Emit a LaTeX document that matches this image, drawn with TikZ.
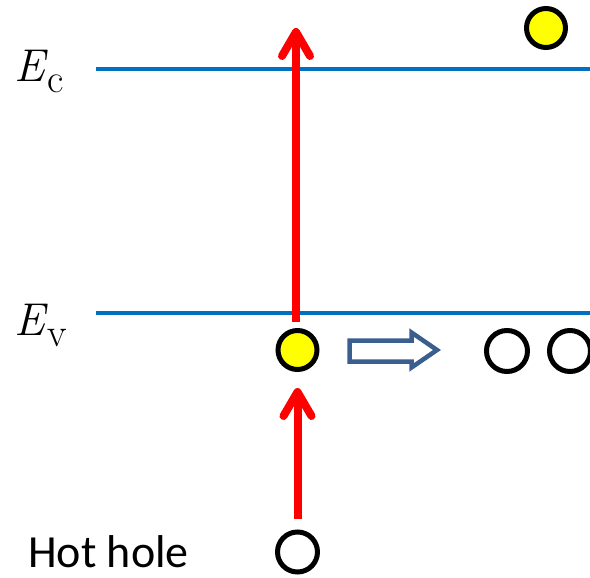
\documentclass[tikz,border=0pt]{standalone}
\usepackage{fontspec}
\newfontfamily\calfont{Carlito}
\usetikzlibrary{arrows.meta}
\definecolor{bandblue}{HTML}{0070C0}
\definecolor{arrowblue}{HTML}{3A5F8F}
\definecolor{pred}{HTML}{FF0000}
\definecolor{pyellow}{HTML}{FFFF00}
\newcommand\lvlsub[1]{\raisebox{-11pt}{\fontsize{40}{44}\selectfont #1}}
\begin{document}
\begin{tikzpicture}[x=1pt,y=-1pt,
  band/.style={draw=bandblue,line width=4.5pt},
  electron/.style={circle,draw=black,fill=pyellow,line width=5pt,minimum size=39pt,inner sep=0pt},
  hole/.style={circle,draw=black,fill=white,line width=5pt,minimum size=41pt,inner sep=0pt},
  redarrow/.style={draw=pred,line width=8pt,-{Straight Barb[length=24pt,width=28pt,round]}},
  lvl/.style={inner sep=0pt,anchor=base west,font=\fontsize{46}{50}\selectfont},
  lab/.style={inner sep=0pt,anchor=base west,font=\calfont\fontsize{46}{50}\selectfont}]
\useasboundingbox (0,0) rectangle (590,578);
% levels
\coordinate (ecL) at (96,69);
\coordinate (ecR) at (592,69);
\coordinate (evL) at (96,313);
\coordinate (evR) at (592,313);
\draw[band] (ecL) -- (ecR);
\draw[band] (evL) -- (evR);
\node[lvl] (ec) at (14,82) {\textit{E}\lvlsub{c}};
\node[lvl] (ev) at (14,335) {\textit{E}\lvlsub{v}};
% particles
\node[electron] (e2) at (546,28) {};
\node[electron] (e1) at (297.5,350) {};
\node[hole] (h1) at (507,351) {};
\node[hole] (h2) at (570,351) {};
\node[hole,minimum size=40pt] (h0) at (297.5,552) {};
\node[lab] (hot) at (28,567) {Hot hole};
% arrows
\coordinate (ctop) at (296,28);
\draw[redarrow,shorten <=6pt] ([xshift=-1.5pt]e1.north) -- (ctop);
\draw[redarrow,shorten <=11pt,shorten >=16pt] (h0.north) -- (e1.south);
% hollow arrow
\draw[draw=arrowblue,line width=4.5pt,fill=white,line join=miter]
  (349.5,340.5) -- (411.5,340.5) -- (411.5,332.5) -- (437,350) -- (411.5,367.5) -- (411.5,361.5) -- (349.5,361.5) -- cycle;
\end{tikzpicture}
\end{document}
